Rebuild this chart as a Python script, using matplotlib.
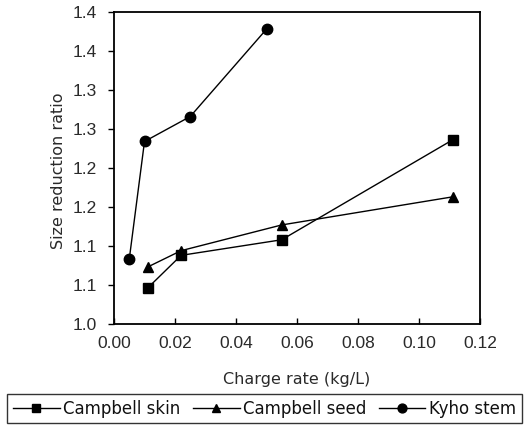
import matplotlib
matplotlib.use("Agg")
import matplotlib.pyplot as plt
from matplotlib.ticker import FixedLocator, FixedFormatter

# ---- data ----
skin_x = [0.011, 0.022, 0.055, 0.111]
skin_y = [1.046, 1.088, 1.108, 1.236]
seed_x = [0.011, 0.022, 0.055, 0.111]
seed_y = [1.073, 1.094, 1.127, 1.163]
kyho_x = [0.005, 0.010, 0.025, 0.050]
kyho_y = [1.083, 1.234, 1.266, 1.378]

x_ticks = [0.00, 0.02, 0.04, 0.06, 0.08, 0.10, 0.12]
x_tick_labels = ["0.00", "0.02", "0.04", "0.06", "0.08", "0.10", "0.12"]
y_ticks = [1.00, 1.05, 1.10, 1.15, 1.20, 1.25, 1.30, 1.35, 1.40]
y_tick_labels = ["1.0", "1.1", "1.1", "1.2", "1.2", "1.3", "1.3", "1.4", "1.4"]

series_names = ["Campbell skin", "Campbell seed", "Kyho stem"]

plt.rcParams['font.family'] = ['DejaVu Sans']
txt_color = '#2a2a2a'
tick_font = ['Liberation Sans Narrow', 'Liberation Sans', 'DejaVu Sans']

fig = plt.figure(figsize=(5.25, 4.3), dpi=100)
ax = fig.add_axes([114/525, 1-324/430, 366/525, 312/430])

lw = 1.0
ax.plot(skin_x, skin_y, color='black', lw=lw, marker='s', ms=7, label=series_names[0])
ax.plot(seed_x, seed_y, color='black', lw=lw, marker='^', ms=7.5, label=series_names[1])
ax.plot(kyho_x, kyho_y, color='black', lw=lw, marker='o', ms=7.5, label=series_names[2])

ax.set_xlim(0, 0.12)
ax.set_ylim(1.0, 1.4)
ax.xaxis.set_major_locator(FixedLocator(x_ticks))
ax.xaxis.set_major_formatter(FixedFormatter(x_tick_labels))
ax.yaxis.set_major_locator(FixedLocator(y_ticks))
ax.yaxis.set_major_formatter(FixedFormatter(y_tick_labels))

for s in ax.spines.values():
    s.set_linewidth(1.3)
    s.set_color('black')

ax.tick_params(axis='x', direction='in', length=4, width=1, pad=9, labelsize=12.5,
               labelcolor=txt_color)
ax.tick_params(axis='y', direction='out', length=4, width=1, pad=8, labelsize=12.5,
               labelcolor=txt_color)
for lab in ax.get_xticklabels() + ax.get_yticklabels():
    lab.set_family(tick_font)

ax.set_xlabel("Charge rate (kg/L)", fontsize=11.5, color=txt_color)
ax.set_ylabel("Size reduction ratio", fontsize=11.5, color=txt_color)
ax.xaxis.set_label_coords(0.5, -0.155)
ax.yaxis.set_label_coords(-0.13, 0.49)

leg = fig.legend(loc='center', bbox_to_anchor=(264.5/525, 1-408.5/430),
                 bbox_transform=fig.transFigure, ncol=3, fontsize=12,
                 handlelength=2.8, handletextpad=0.2, columnspacing=0.75,
                 borderpad=0.35, fancybox=False, frameon=True, markerscale=0.85)
leg.get_frame().set_edgecolor('black')
leg.get_frame().set_linewidth(1.0)
for t in leg.get_texts():
    t.set_color('#111111')

fig.savefig("out.png", dpi=100)
